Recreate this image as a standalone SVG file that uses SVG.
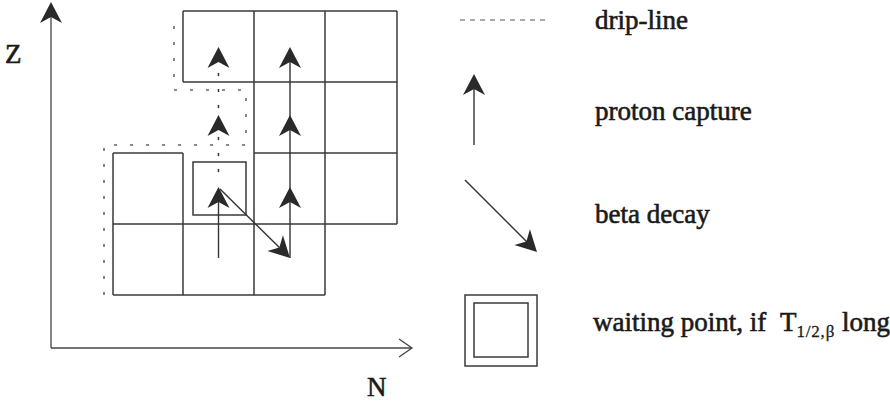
<svg xmlns="http://www.w3.org/2000/svg" xmlns:xlink="http://www.w3.org/1999/xlink" width="890" height="401" viewBox="0 0 890 401">
<style>
.g{stroke:#3a3a3a;stroke-width:1.5;fill:none}
.ax{stroke:#444;stroke-width:1.3;fill:none}
.drip{stroke:#888;stroke-width:2;fill:none;stroke-dasharray:3 13}
.dash{stroke:#333;stroke-width:1.5;fill:none;stroke-dasharray:3 13}
.arr{stroke:#333;stroke-width:1.4;fill:none}
.t{font-family:"Liberation Serif","Times New Roman",serif;font-size:27px;fill:#1a1a1a;stroke:#1a1a1a;stroke-width:0.6}
</style>
<defs>
<path id="ah" d="M0,0 L11,21 L0,15 L-11,21 Z" fill="#2a2a2a"/>
</defs>
<rect width="890" height="401" fill="#fff"/>
<g id="axes">
<line class="ax" x1="51" y1="4" x2="51" y2="348"/>
<use xlink:href="#ah" x="51" y="2"/>
<line class="ax" x1="51" y1="348" x2="411" y2="348"/>
<polyline class="ax" points="399,339 412,348 399,357"/>
<text class="t" x="5" y="63" font-family="Liberation Serif, serif">Z</text>
<text class="t" x="367" y="396" font-family="Liberation Serif, serif">N</text>
</g>
<g id="grid">
<path class="g" d="M183,11 H397 M183,82 H397 M113,153 H183 M254,153 H397 M113,224 H397 M113,295 H325"/>
<path class="g" d="M113,153 V295 M183,11 V82 M183,153 V295 M254,11 V295 M325,11 V295 M397,11 V224"/>
</g>
<g id="waiting-point">
<rect class="g" x="193" y="162" width="53" height="53"/>
</g>
<g id="drip-line">
<path class="drip" d="M104,295 V145 H246 V90 H174 V22"/>
</g>
<g id="connectors">
<line class="dash" x1="218.5" y1="172" x2="218.5" y2="50"/>
<use xlink:href="#ah" x="218.5" y="47"/>
<use xlink:href="#ah" x="218.5" y="115"/>
<line class="arr" x1="218.5" y1="258" x2="218.5" y2="192"/>
<use xlink:href="#ah" x="218.5" y="187"/>
<line class="arr" x1="290" y1="258" x2="290" y2="52"/>
<use xlink:href="#ah" x="290" y="47"/>
<use xlink:href="#ah" x="290" y="115"/>
<use xlink:href="#ah" x="290" y="187"/>
<line class="arr" x1="220" y1="189" x2="286" y2="254"/>
<use xlink:href="#ah" transform="translate(290,258) rotate(135)"/>
</g>
<g id="legend-drip-line">
<line x1="460" y1="20" x2="550" y2="20" stroke="#aaa" stroke-width="2" stroke-dasharray="5 5"/>
<text class="t" x="595" y="29" font-family="Liberation Serif, serif">drip-line</text>
</g>
<g id="legend-proton-capture">
<line class="arr" x1="474" y1="145" x2="474" y2="80"/>
<use xlink:href="#ah" x="474" y="74"/>
<text class="t" x="595" y="120" font-family="Liberation Serif, serif">proton capture</text>
</g>
<g id="legend-beta-decay">
<line class="arr" x1="465" y1="180" x2="533" y2="248"/>
<use xlink:href="#ah" transform="translate(537,252) rotate(135)"/>
<text class="t" x="595" y="223" font-family="Liberation Serif, serif">beta decay</text>
</g>
<g id="legend-waiting-point">
<rect class="g" x="465" y="295" width="72" height="71"/>
<rect class="g" x="474" y="303" width="54" height="54"/>
<text class="t" x="593" y="331" font-family="Liberation Serif, serif">waiting point, if</text>
<text class="t" x="780" y="331" font-family="Liberation Serif, serif">T<tspan font-size="17" dy="6" letter-spacing="0.8" stroke-width="0.3">1/2,β</tspan></text>
<text class="t" x="842" y="331" font-family="Liberation Serif, serif">long</text>
</g>
</svg>
